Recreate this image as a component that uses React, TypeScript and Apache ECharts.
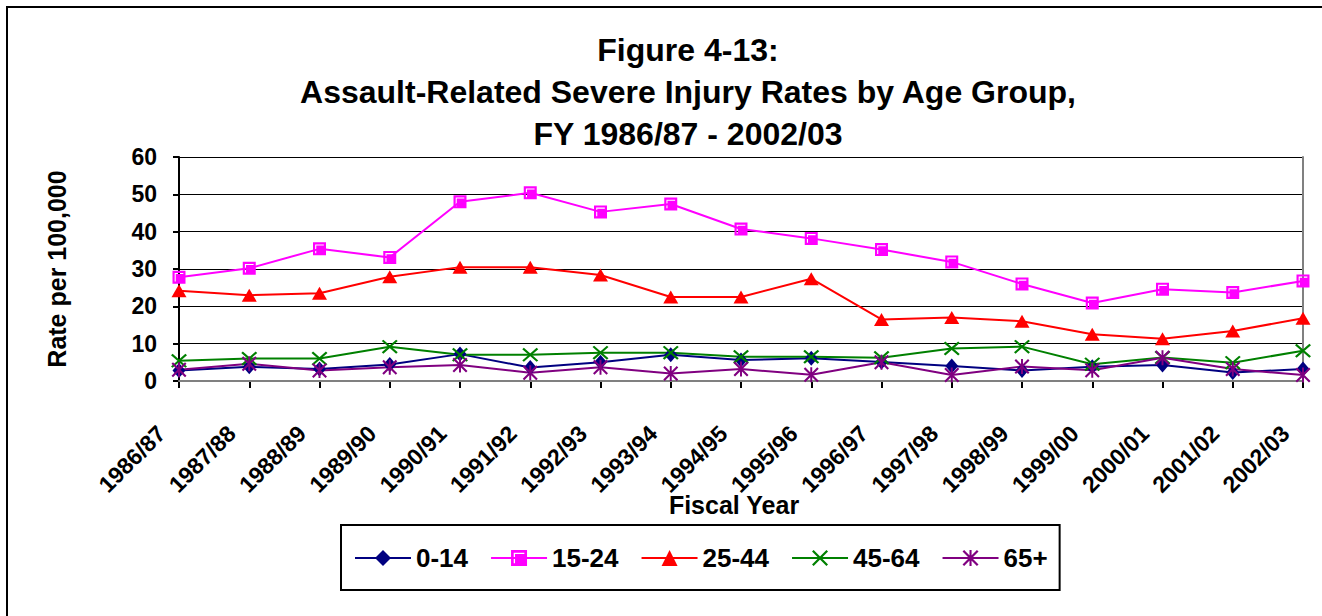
import React, { useEffect, useRef } from "react";
import * as echarts from "echarts";

const categories = [
  "1986/87", "1987/88", "1988/89", "1989/90", "1990/91", "1991/92", "1992/93", "1993/94",
  "1994/95", "1995/96", "1996/97", "1997/98", "1998/99", "1999/00", "2000/01", "2001/02", "2002/03",
];
const age0to14 = [2.8, 3.8, 3.2, 4.4, 7.2, 3.6, 5.0, 7.0, 5.6, 6.1, 5.1, 4.0, 2.8, 3.8, 4.3, 2.3, 3.2];
const age15to24 = [27.8, 30.2, 35.4, 33.1, 48.0, 50.4, 45.3, 47.4, 40.7, 38.2, 35.2, 31.9, 26.0, 20.9, 24.6, 23.7, 26.8];
const age25to44 = [24.2, 23.0, 23.5, 27.9, 30.5, 30.5, 28.4, 22.5, 22.5, 27.4, 16.5, 17.0, 16.0, 12.5, 11.3, 13.4, 16.8];
const age45to64 = [5.4, 6.0, 6.0, 9.2, 7.0, 7.0, 7.6, 7.6, 6.5, 6.5, 6.2, 8.7, 9.2, 4.5, 6.3, 4.9, 8.1];
const age65plus = [3.0, 4.6, 2.8, 3.7, 4.3, 2.2, 3.7, 2.0, 3.2, 1.7, 5.0, 1.6, 3.9, 2.9, 6.2, 3.2, 1.6];
const seriesNames = ["0-14", "15-24", "25-44", "45-64", "65+"];
const titleLines = [
  "Figure 4-13:",
  "Assault-Related Severe Injury Rates by Age Group,",
  "FY 1986/87 - 2002/03",
];

const FONT = '"Liberation Sans", Arial, Helvetica, sans-serif';

const SQUARE_PATH =
  "path://M0 0L12 0L12 12L0 12Z M2 2L2 10L3 10L3 3L10 3L10 2Z";
const X_PATH =
  "path://M0 2L2 0L20 18L18 20Z M18 0L20 2L2 20L0 18Z";
const STAR_PATH =
  "path://M0 2L2 0L20 18L18 20Z M18 0L20 2L2 20L0 18Z M8.7 0L11.3 0L11.3 20L8.7 20Z";

export default function App() {
  const ref = useRef<HTMLDivElement>(null);
  useEffect(() => {
    document.body.style.margin = "0";
    document.body.style.overflow = "hidden";
    if (!ref.current) return;
    const chart = echarts.init(ref.current, undefined, { renderer: "svg" });

    const mk = (name: string, data: number[], color: string, symbol: string, size: any) => ({
      name,
      type: "line",
      data,
      xAxisIndex: 0,
      yAxisIndex: 0,
      symbol,
      symbolSize: size,
      showAllSymbol: true,
      lineStyle: { color, width: 2 },
      itemStyle: { color, borderWidth: 0 },
      emphasis: { disabled: true },
    });

    chart.setOption({
      animation: false,
      backgroundColor: "#ffffff",
      title: {
        text: titleLines.join("\n"),
        left: 683,
        top: 24,
        textAlign: "center",
        textStyle: {
          fontFamily: FONT,
          fontWeight: "bold",
          fontSize: 32,
          lineHeight: 42,
          color: "#000",
        },
      },
      graphic: [
        {
          type: "rect",
          silent: true,
          shape: { x: 7, y: 7, width: 1400, height: 700 },
          style: { fill: "none", stroke: "#000", lineWidth: 2 },
        },
      ],
      legend: {
        data: seriesNames,
        left: 341,
        top: 525,
        orient: "horizontal",
        itemWidth: 56,
        itemHeight: 20,
        itemGap: 22,
        padding: [18, 12, 17, 13],
        borderColor: "#000",
        borderWidth: 2,
        textStyle: {
          fontFamily: FONT,
          fontWeight: "bold",
          fontSize: 26,
          lineHeight: 30,
          color: "#000",
        },
      },
      grid: { left: 179, right: 19, top: 157, bottom: 235, containLabel: false },
      xAxis: [
        {
          type: "category",
          data: categories,
          boundaryGap: false,
          position: "bottom",
          name: "Fiscal Year",
          nameLocation: "middle",
          nameGap: 111,
          nameMoveOverlap: false,
          nameTextStyle: {
            fontFamily: FONT,
            fontWeight: "bold",
            fontSize: 25,
            color: "#000",
            padding: [0, 14, 0, 0],
          },
          axisLine: { lineStyle: { color: "#000", width: 2 } },
          axisTick: { show: true, length: 7, lineStyle: { color: "#000", width: 2 } },
          axisLabel: {
            rotate: 45,
            interval: 0,
            margin: 31,
            padding: [0, 25, 0, 0],
            fontFamily: FONT,
            fontWeight: "bold",
            fontSize: 23,
            color: "#000",
          },
          splitLine: { show: false },
        },
        {
          type: "category",
          data: categories,
          boundaryGap: false,
          position: "top",
          z: 1,
          axisLine: { show: true, lineStyle: { color: "#808080", width: 2 } },
          axisTick: { show: false },
          axisLabel: { show: false },
          splitLine: { show: false },
        },
      ],
      yAxis: [
        {
          type: "value",
          min: 0,
          max: 60,
          interval: 10,
          position: "left",
          name: "Rate per 100,000",
          nameLocation: "middle",
          nameGap: 110,
          nameMoveOverlap: false,
          nameTextStyle: {
            fontFamily: FONT,
            fontWeight: "bold",
            fontSize: 25,
            color: "#000",
          },
          axisLine: { show: true, lineStyle: { color: "#000", width: 2 } },
          axisTick: { show: true, length: 6, lineStyle: { color: "#000", width: 2 } },
          axisLabel: {
            margin: 22,
            fontFamily: FONT,
            fontWeight: "bold",
            fontSize: 23,
            color: "#000",
          },
          splitLine: { show: true, lineStyle: { color: "#000", width: 1 } },
        },
        {
          type: "value",
          min: 0,
          max: 60,
          interval: 10,
          position: "right",
          z: 1,
          axisLine: { show: true, lineStyle: { color: "#808080", width: 2 } },
          axisTick: { show: false },
          axisLabel: { show: false },
          splitLine: { show: false },
        },
      ],
      series: [
        mk(seriesNames[0], age0to14, "#000080", "diamond", [13, 15]),
        mk(seriesNames[1], age15to24, "#FF00FF", SQUARE_PATH, [13, 13]),
        mk(seriesNames[2], age25to44, "#FF0000", "triangle", [15, 13]),
        mk(seriesNames[3], age45to64, "#008000", X_PATH, [16, 14]),
        mk(seriesNames[4], age65plus, "#800080", STAR_PATH, [15, 15]),
      ],
    });
    return () => chart.dispose();
  }, []);
  return <div ref={ref} style={{ width: 1322, height: 616 }} />;
}
